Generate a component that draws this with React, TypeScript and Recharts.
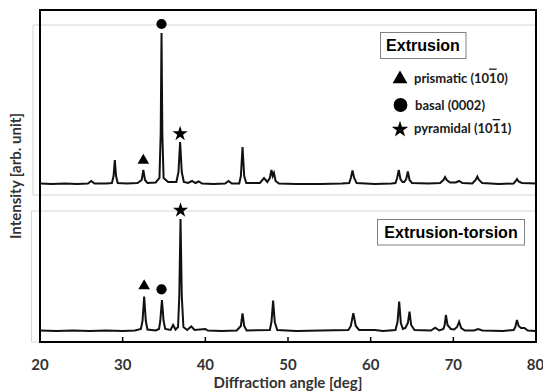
import React from 'react';
import {
  ComposedChart,
  Line,
  Scatter,
  XAxis,
  YAxis,
  ReferenceArea,
  ReferenceLine,
  Symbols,
} from 'recharts';

// ---- data (angle in deg, intensity in arbitrary units) ----
const upperAngle = [
  20.0, 21.5, 23.0, 24.5, 25.8, 26.2, 26.6, 28.0, 28.7, 28.9, 29.05, 29.2, 29.4,
  30.5, 31.8, 32.3, 32.5, 32.7, 33.0, 34.0, 34.45, 34.6, 34.7, 34.8, 34.95, 35.5,
  36.5, 36.75, 36.95, 37.15, 37.4, 37.9, 38.4, 38.8, 39.2, 39.6, 41.0, 42.4, 42.8,
  43.2, 44.1, 44.3, 44.5, 44.7, 44.95, 46.6, 47.1, 47.5, 47.8, 48.0, 48.15, 48.3,
  48.5, 48.9, 51.0, 54.0, 56.5, 57.4, 57.6, 57.8, 58.0, 58.3, 60.5, 62.5, 63.0,
  63.2, 63.4, 63.6, 63.85, 64.05, 64.3, 64.5, 64.7, 65.0, 67.0, 68.4, 68.8, 69.0,
  69.2, 69.6, 70.3, 70.7, 71.1, 72.3, 72.7, 72.9, 73.1, 73.5, 75.5, 77.3, 77.55,
  77.7, 77.9, 78.3, 80.0,
];
const upperIntensity = [
  0.5, 0, 0.5, 0, 0.5, 3, 0.5, 0.5, 1, 8, 24, 8, 1,
  0.5, 1, 4, 14, 4, 1, 1.5, 6, 50, 151, 50, 6, 2,
  2, 12, 42, 12, 2, 1, 3, 1, 2.5, 0.5, 0, 0.5, 3,
  0.5, 0.5, 8, 37, 8, 1, 1, 6, 2, 6, 14, 8, 11,
  3, 0.5, 0, 0, 0.5, 1, 6, 13.5, 6, 1, 0, 0.5, 1,
  6, 14, 5, 2, 2, 5, 12.5, 4, 1, 0.5, 1, 4, 7,
  4, 1.5, 1.5, 3, 1, 0.5, 4, 7.5, 4, 1, 0, 0.5, 3,
  5, 2.5, 1, 0.5,
];

const lowerAngle = [
  20.0, 22.0, 24.0, 26.0, 28.0, 30.0, 31.5, 32.2, 32.4, 32.6, 32.8, 33.0, 34.0,
  34.4, 34.55, 34.75, 34.95, 35.15, 35.8, 36.1, 36.4, 36.7, 36.85, 37.0, 37.15,
  37.35, 37.8, 38.3, 38.7, 40.0, 40.3, 42.0, 43.8, 44.3, 44.5, 44.7, 45.0, 47.8,
  48.0, 48.2, 48.4, 48.7, 51.0, 54.0, 57.3, 57.6, 57.9, 58.2, 58.6, 60.5, 61.5,
  63.0, 63.25, 63.45, 63.65, 63.9, 64.2, 64.5, 64.7, 64.9, 65.3, 67.3, 67.8, 68.3,
  68.8, 68.95, 69.1, 69.3, 69.7, 70.1, 70.45, 70.7, 70.95, 71.4, 72.5, 73.0, 73.5,
  76.0, 77.3, 77.5, 77.7, 77.9, 78.2, 78.6, 79.0, 80.0,
];
const lowerIntensity = [
  0.5, 0, 0.5, 0, 0.5, 0, 0.5, 2, 10, 34.5, 10, 1.5, 0.5,
  2, 10, 31, 10, 2, 1, 6, 1.5, 4, 35, 112, 35,
  4, 1, 4.5, 1, 2, 0.5, 0, 0.5, 5, 17.7, 5, 0.5, 1,
  9, 30.3, 9, 1, 0, 0.5, 1, 5, 17.7, 5, 1, 1, 0,
  1, 9, 29.3, 8, 2, 3, 8, 19.3, 6, 1, 0.5, 3.3, 0.5,
  2, 6, 16, 6, 2, 1.5, 4, 9.3, 3, 0.5, 0.5, 2, 0.5,
  0, 1, 4, 11, 5, 3, 3, 0.5, 0,
];

// peak markers (angle, height above trace)
const upperMarkerAngle = [32.5, 34.7, 36.95];
const upperMarkerHeight = [23.6, 160, 50.3];
const upperMarkerShape = ['triangle', 'circle', 'star'];

const lowerMarkerAngle = [32.6, 34.7, 37.0];
const lowerMarkerHeight = [45, 41.7, 120.7];
const lowerMarkerShape = ['triangle', 'circle', 'star'];

const xTicks = [20, 30, 40, 50, 60, 70, 80];
const innerTicks = [30, 40, 50, 60, 70];

const upperData = upperAngle.map((a, i) => ({ angle: a, intensity: upperIntensity[i] }));
const lowerData = lowerAngle.map((a, i) => ({ angle: a, intensity: lowerIntensity[i] }));
const upperMarkers = upperMarkerAngle.map((a, i) => ({
  angle: a,
  intensity: upperMarkerHeight[i],
  shape: upperMarkerShape[i],
}));
const lowerMarkers = lowerMarkerAngle.map((a, i) => ({
  angle: a,
  intensity: lowerMarkerHeight[i],
  shape: lowerMarkerShape[i],
}));

const markerSize: Record<string, number> = { triangle: 58, circle: 82, star: 72 };

const MarkerShape = (props: any) => {
  const { cx, cy, payload } = props;
  if (cx == null || cy == null) return null;
  return (
    <Symbols
      cx={cx}
      cy={cy}
      type={payload.shape}
      size={markerSize[payload.shape]}
      fill="#000"
      stroke="none"
    />
  );
};

const TICK_FONT = 'Lato, "Open Sans", sans-serif';
const AXIS_STYLE = { fontFamily: TICK_FONT, fontWeight: 700, fontSize: 15, fill: '#333' };

export default function App() {
  return (
    <div style={{ position: 'absolute', left: 0, top: 0, width: 543, height: 392, background: '#fff' }}>
      <ComposedChart width={543} height={392} margin={{ top: 10, right: 7, bottom: 0, left: 0 }}>
        <XAxis
          dataKey="angle"
          type="number"
          domain={[20, 80]}
          ticks={xTicks}
          allowDataOverflow
          height={50}
          axisLine={false}
          tickLine={false}
          tickMargin={11}
          tick={AXIS_STYLE}
          label={{
            value: 'Diffraction angle [deg]',
            position: 'insideBottom',
            offset: 4,
            style: AXIS_STYLE,
          }}
        />
        <YAxis
          yAxisId="top"
          dataKey="intensity"
          type="number"
          domain={[-158, 174]}
          allowDataOverflow
          width={40}
          tick={false}
          tickLine={false}
          axisLine={false}
          label={{
            content: (p: any) => {
              const vb = p.viewBox || { x: 0, y: 10, width: 40, height: 332 };
              const cx = 15;
              const cy = vb.y + vb.height / 2;
              return (
                <text
                  x={cx}
                  y={cy}
                  transform={`rotate(-90 ${cx} ${cy})`}
                  textAnchor="middle"
                  dominantBaseline="central"
                  style={AXIS_STYLE}
                >
                  Intensity [arb. unit]
                </text>
              );
            },
          }}
        />
        <YAxis
          yAxisId="bot"
          dataKey="intensity"
          type="number"
          domain={[-11, 321]}
          allowDataOverflow
          hide
        />

        <ReferenceArea
          yAxisId="top"
          x1={19.15}
          x2={80}
          y1={-11}
          y2={159}
          ifOverflow="visible"
          fill="none"
          stroke="#d4d4d4"
          strokeWidth={1}
        />
        <ReferenceArea
          yAxisId="bot"
          x1={18.98}
          x2={80}
          y1={-11}
          y2={120}
          ifOverflow="visible"
          fill="none"
          stroke="#d4d4d4"
          strokeWidth={1}
        />

        {innerTicks.map((t) => (
          <ReferenceLine
            key={t}
            yAxisId="top"
            segment={[
              { x: t, y: -158 },
              { x: t, y: -153 },
            ]}
            stroke="#000"
            strokeWidth={1.5}
            ifOverflow="visible"
          />
        ))}

        <Line
          yAxisId="top"
          data={upperData}
          dataKey="intensity"
          type="linear"
          stroke="#111"
          strokeWidth={2}
          dot={false}
          isAnimationActive={false}
        />
        <Line
          yAxisId="bot"
          data={lowerData}
          dataKey="intensity"
          type="linear"
          stroke="#111"
          strokeWidth={2}
          dot={false}
          isAnimationActive={false}
        />
        <Scatter
          yAxisId="top"
          data={upperMarkers}
          dataKey="intensity"
          shape={MarkerShape}
          isAnimationActive={false}
        />
        <Scatter
          yAxisId="bot"
          data={lowerMarkers}
          dataKey="intensity"
          shape={MarkerShape}
          isAnimationActive={false}
        />

        <ReferenceArea
          yAxisId="top"
          x1={20}
          x2={80}
          y1={-158}
          y2={174}
          ifOverflow="visible"
          fill="none"
          stroke="#000"
          strokeWidth={2}
        />
      </ComposedChart>

      <svg
        width={543}
        height={392}
        style={{ position: 'absolute', left: 0, top: 0, pointerEvents: 'none' }}
      >
        <rect x={380.5} y={32.5} width={85.5} height={26} fill="#fff" stroke="#808080" strokeWidth={1} />
        <text
          x={423}
          y={51}
          textAnchor="middle"
          style={{ fontFamily: '"Liberation Sans", Arial, sans-serif', fontWeight: 700, fontSize: 16, fill: '#000' }}
        >
          Extrusion
        </text>

        <Symbols cx={400} cy={79} type="triangle" size={95} fill="#000" />
        <Symbols cx={400.5} cy={105} type="circle" size={150} fill="#000" />
        <Symbols cx={400} cy={129.5} type="star" size={85} fill="#000" />

        <g style={{ fontFamily: TICK_FONT, fontWeight: 700, fontSize: 13, fill: '#1a1a1a' }}>
          <text x={414} y={82.5}>
            prismatic (10<tspan style={{ textDecoration: 'overline' }}>1</tspan>0)
          </text>
          <text x={415} y={109.5}>
            basal (0002)
          </text>
          <text x={414} y={133}>
            pyramidal (10<tspan style={{ textDecoration: 'overline' }}>1</tspan>1)
          </text>
        </g>

        <rect x={377.5} y={219.5} width={147} height={25.5} fill="#fff" stroke="#808080" strokeWidth={1} />
        <text
          x={451}
          y={238}
          textAnchor="middle"
          style={{ fontFamily: '"Liberation Sans", Arial, sans-serif', fontWeight: 700, fontSize: 16, fill: '#000' }}
        >
          Extrusion-torsion
        </text>
      </svg>
    </div>
  );
}
